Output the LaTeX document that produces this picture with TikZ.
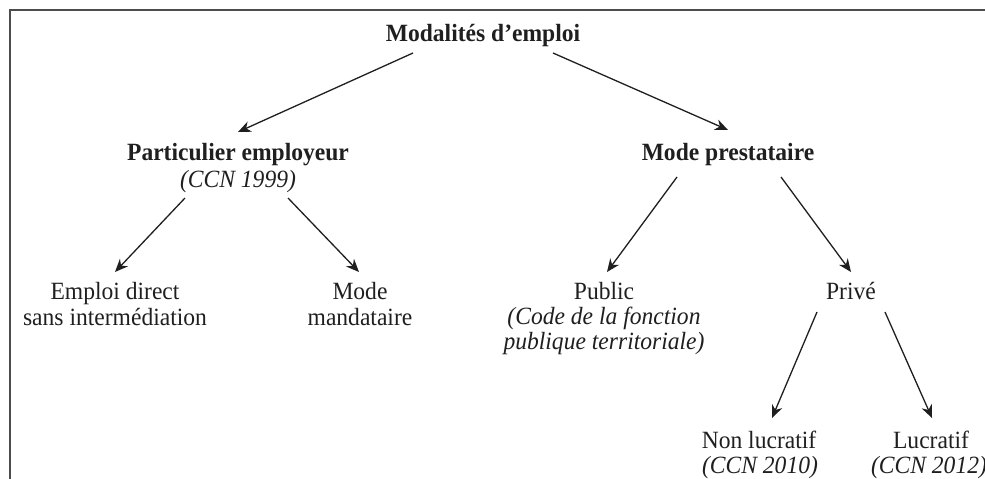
\documentclass[tikz,border=0pt]{standalone}
\usepackage{fontspec}
\setmainfont[FakeStretch=0.95]{Liberation Serif}
\usetikzlibrary{arrows.meta}
\begin{document}
\begin{tikzpicture}[x=1pt,y=-1pt,
  lbl/.style={inner sep=0pt,anchor=base,text=black!88,font=\fontsize{24.8}{28}\selectfont},
  blbl/.style={lbl,font=\fontsize{24.8}{28}\selectfont\bfseries},
  ilbl/.style={lbl,font=\fontsize{24.8}{28}\selectfont\itshape},
  arr/.style={draw=black!88,line width=1.3pt,-{Stealth[length=13pt,width=11pt]}},
  frame/.style={draw=black!70,line width=1.6pt}]
\useasboundingbox (0,0) rectangle (985,479);
\draw[frame] (10,479) -- (10,10) -- (985,10);
% nodes
\node[blbl] (title) at (483,41) {Modalités d’emploi};
\node[blbl] (part) at (238,160) {Particulier employeur};
\node[ilbl] (part2) at (238,187) {(CCN 1999)};
\node[blbl] (prest) at (728,160) {Mode prestataire};
\node[lbl] (emp1) at (115,299) {Emploi direct};
\node[lbl] (emp2) at (115,325) {sans intermédiation};
\node[lbl] (mand1) at (360,299) {Mode};
\node[lbl] (mand2) at (360,325) {mandataire};
\node[lbl] (pub1) at (604,299) {Public};
\node[ilbl] (pub2) at (604,324) {(Code de la fonction};
\node[ilbl] (pub3) at (604,349) {publique territoriale)};
\node[lbl] (priv) at (851,299) {Privé};
\node[lbl] (nonl1) at (759,448) {Non lucratif};
\node[ilbl] (nonl2) at (760,473) {(CCN 2010)};
\node[lbl] (luc1) at (931,448) {Lucratif};
\node[ilbl] (luc2) at (929,473) {(CCN 2012)};
% connector ends
\coordinate (t-l) at (413,53);
\coordinate (t-r) at (553,53);
\coordinate (part-in) at (238,132);
\coordinate (prest-in) at (728,130);
\coordinate (part-l) at (185,198);
\coordinate (part-r) at (288,198);
\coordinate (emp-in) at (115,272);
\coordinate (mand-in) at (359,272);
\coordinate (prest-l) at (677,177);
\coordinate (prest-r) at (781,177);
\coordinate (pub-in) at (607,272);
\coordinate (priv-in) at (851,272);
\coordinate (priv-l) at (817,312);
\coordinate (priv-r) at (885,312);
\coordinate (nonl-in) at (772,418);
\coordinate (luc-in) at (932,418);
% connectors
\draw[arr] (t-l) -- (part-in);
\draw[arr] (t-r) -- (prest-in);
\draw[arr] (part-l) -- (emp-in);
\draw[arr] (part-r) -- (mand-in);
\draw[arr] (prest-l) -- (pub-in);
\draw[arr] (prest-r) -- (priv-in);
\draw[arr] (priv-l) -- (nonl-in);
\draw[arr] (priv-r) -- (luc-in);
\end{tikzpicture}
\end{document}
